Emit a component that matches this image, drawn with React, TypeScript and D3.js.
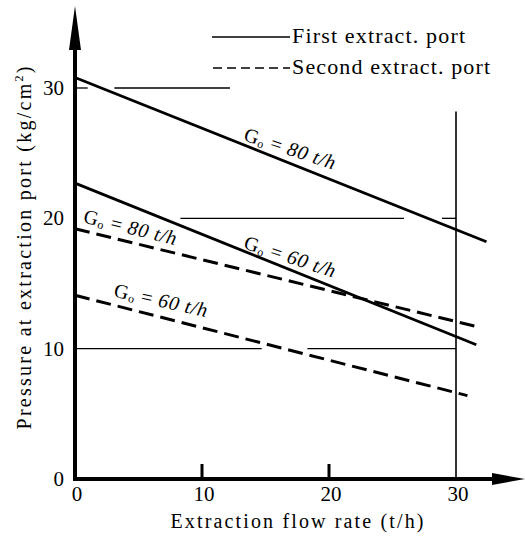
import React from 'react';
import * as d3 from 'd3';

// extraction flow rate (t/h) vs pressure (kg/cm2)
const firstPort80 = [[0, 30.8], [32.4, 18.2]];
const firstPort60 = [[0, 22.7], [31.6, 10.3]];
const secondPort80 = [[0, 19.2], [31.6, 11.7]];
const secondPort60 = [[0, 14.1], [30.9, 6.4]];

const xTicks = [0, 10, 20, 30];
const yTicks = [0, 10, 20, 30];

// thin construction lines: [pressure, from flow, to flow]
const guideLines = [
  [30, 0, 1.0],
  [30, 3.1, 12.2],
  [20, 8.3, 25.9],
  [20, 28.9, 30],
  [10, 0, 14.7],
  [10, 18.3, 30],
];
const guideVertical = [30, 0, 28.2];

// curve labels: [flow, pressure, G value, angle]
const curveLabels = [
  [13.2, 26.0, '80', 18],
  [0.6, 19.7, '80', 14],
  [13.2, 17.7, '60', 18],
  [3.0, 14.0, '60', 12.5],
];

const W = 525;
const H = 539;
const font = '"Liberation Serif", "DejaVu Serif", serif';

const App = () => {
  const x = d3.scaleLinear().domain([0, 30]).range([75, 456]);
  const y = d3.scaleLinear().domain([0, 30]).range([479, 88]);

  const line = d3.line<number[]>()
    .x(d => x(d[0]))
    .y(d => y(d[1]));

  const x0 = x(0);
  const y0 = y(0);

  return (
    <svg width={W} height={H} style={{ position: 'absolute', left: 0, top: 0, background: '#fff' }}
      fontFamily={font}>
      <rect width={W} height={H} fill="#fff" />

      {/* legend */}
      <line x1={212} x2={290} y1={37} y2={37} stroke="#000" strokeWidth={1.5} />
      <text x={292} y={43} fontSize={22} textLength={173} lengthAdjust="spacing">First  extract. port</text>
      <line x1={213} x2={290} y1={68} y2={68} stroke="#000" strokeWidth={1.5} strokeDasharray="9,5" />
      <text x={292} y={74} fontSize={22} textLength={198} lengthAdjust="spacing">Second  extract. port</text>

      {/* construction lines */}
      {guideLines.map((g, i) => (
        <line key={i} x1={x(g[1])} x2={x(g[2])} y1={y(g[0])} y2={y(g[0])}
          stroke="#000" strokeWidth={1.3} />
      ))}
      <line x1={x(guideVertical[0])} x2={x(guideVertical[0])}
        y1={y(guideVertical[1])} y2={y(guideVertical[2])} stroke="#000" strokeWidth={1.6} />

      {/* curves */}
      <path d={line(firstPort80) || ''} fill="none" stroke="#000" strokeWidth={2.8} />
      <path d={line(firstPort60) || ''} fill="none" stroke="#000" strokeWidth={2.8} />
      <path d={line(secondPort80) || ''} fill="none" stroke="#000" strokeWidth={3}
        strokeDasharray="15,7" />
      <path d={line(secondPort60) || ''} fill="none" stroke="#000" strokeWidth={3}
        strokeDasharray="15,7" />

      {/* curve labels */}
      {curveLabels.map((l, i) => (
        <text key={i} transform={`translate(${x(l[0] as number)},${y(l[1] as number)}) rotate(${l[3]})`}
          fontSize={20} textLength={95} lengthAdjust="spacing">
          G<tspan fontSize={12} dy={2}>o</tspan>
          <tspan dy={-2}> = </tspan>
          <tspan fontStyle="italic">{l[2]} t/h</tspan>
        </text>
      ))}

      {/* axes */}
      <line x1={x0} x2={x0} y1={y0 + 2} y2={40} stroke="#000" strokeWidth={4} />
      <path d={`M${x0},6 L${x0 - 6},50 L${x0 + 6},50 Z`} fill="#000" />
      <line x1={x0 - 2} x2={495} y1={y0} y2={y0} stroke="#000" strokeWidth={4} />
      <path d={`M525,${y0} L492,${y0 - 6} L492,${y0 + 6} Z`} fill="#000" />

      {xTicks.filter(t => t > 0 && t < 30).map(t => (
        <line key={t} x1={x(t)} x2={x(t)} y1={y0} y2={y0 - 15} stroke="#000" strokeWidth={3} />
      ))}

      {yTicks.map(t => (
        <text key={t} x={64} y={y(t) + 7} fontSize={21} textAnchor="end">{t}</text>
      ))}
      {xTicks.map(t => (
        <text key={t} x={x(t) + 2} y={501} fontSize={21} textAnchor="middle">{t}</text>
      ))}

      <text x={297} y={528} fontSize={20} textAnchor="middle" textLength={253}
        lengthAdjust="spacing">Extraction  flow  rate (t/h)</text>
      <text transform={`translate(31,248) rotate(-90)`} fontSize={20} textAnchor="middle"
        textLength={363} lengthAdjust="spacing">
        Pressure  at  extraction  port (kg/cm<tspan fontSize={12} dy={-8}>2</tspan><tspan dy={8}>)</tspan>
      </text>
    </svg>
  );
};

export default App;
